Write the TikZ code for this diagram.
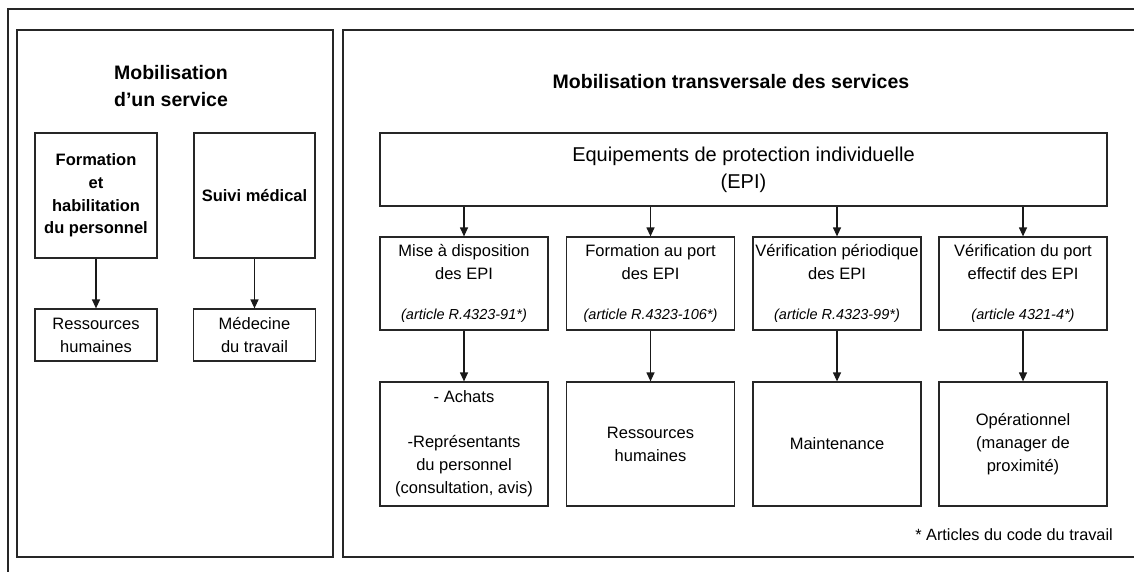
\documentclass[tikz,border=0pt]{standalone}
\usepackage{fontspec}
\setmainfont{Liberation Sans}
\usetikzlibrary{arrows.meta}
\newcommand\artfont{\fontsize{14.5}{17}\selectfont\itshape}
\begin{document}
\begin{tikzpicture}[x=1pt,y=-1pt,
  frame/.style={draw=black!85,line width=1.2pt},
  box/.style={frame,fill=white,inner sep=0pt,align=center,
    font=\fontsize{16.5}{23}\selectfont},
  topbox/.style={box,minimum width=168pt,minimum height=93pt},
  lowbox/.style={box,minimum width=168pt,minimum height=124pt},
  title/.style={align=center,font=\fontsize{19.5}{27}\selectfont\bfseries},
  link/.style={draw=black!90,line width=1.2pt,-{Triangle[length=9pt,width=8pt]}}]
\useasboundingbox (0,0) rectangle (1134,572);
\fill[white] (0,0) rectangle (1134,572);

% outer frame and the two panels
\draw[frame] (8,572) -- (8,9) -- (1134,9);
\draw[frame] (17,30) rectangle (333,557);
\draw[frame] (1134,30) -- (343,30) -- (343,557) -- (1134,557);

% left panel: one service
\node[title] (lt) at (171,86) {Mobilisation\\d’un service};
\node[box,minimum width=122pt,minimum height=125pt,font=\fontsize{16.5}{22.7}\selectfont\bfseries]
  (fh) at (96,195.5) {Formation\\et\\habilitation\\du personnel};
\node[box,minimum width=121pt,minimum height=125pt,font=\fontsize{16.5}{22.7}\selectfont\bfseries]
  (sm) at (254.5,195.5) {Suivi médical};
\node[box,minimum width=122pt,minimum height=52pt] (rh) at (96,335) {Ressources\\humaines};
\node[box,minimum width=122pt,minimum height=52pt] (mt) at (254.5,335) {Médecine\\du travail};
\draw[link] (fh) -- (rh);
\draw[link] (sm) -- (mt);

% right panel: services working together
\node[title] (rt) at (731,82) {Mobilisation transversale des services};
\node[box,minimum width=727pt,minimum height=73pt,font=\fontsize{20}{27}\selectfont]
  (epi) at (743.5,169.5) {Equipements de protection individuelle\\(EPI)};

\node[topbox] (t1) at (464,283.5) {Mise à disposition\\des EPI\\[17pt]{\artfont(article R.4323-91*)}};
\node[topbox] (t2) at (650.5,283.5) {Formation au port\\des EPI\\[17pt]{\artfont(article R.4323-106*)}};
\node[topbox] (t3) at (837,283.5) {Vérification périodique\\des EPI\\[17pt]{\artfont(article R.4323-99*)}};
\node[topbox] (t4) at (1023,283.5) {Vérification du port\\effectif des EPI\\[17pt]{\artfont(article 4321-4*)}};

\node[lowbox] (b1) at (464,444) {- Achats\\[22pt]-Représentants\\du personnel\\(consultation, avis)};
\node[lowbox] (b2) at (650.5,444) {Ressources\\humaines};
\node[lowbox] (b3) at (837,444) {Maintenance};
\node[lowbox] (b4) at (1023,444) {Opérationnel\\(manager de\\proximité)};

\foreach \i in {1,2,3,4} {
  \draw[link] (epi.south -| t\i.north) -- (t\i.north);
  \draw[link] (t\i) -- (b\i);
}

\node[anchor=east,inner sep=0pt,font=\fontsize{16.3}{20}\selectfont] (fn) at (1113,535)
  {* Articles du code du travail};
\end{tikzpicture}
\end{document}
